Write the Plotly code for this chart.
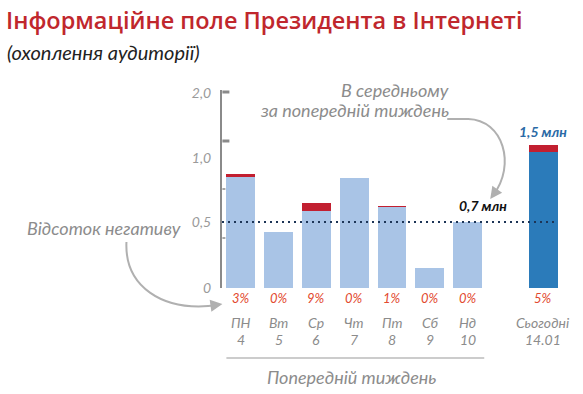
import plotly.graph_objects as go

# ---------------- data ----------------
days = ["ПН", "Вт", "Ср", "Чт", "Пт", "Сб", "Нд"]
dates = ["4", "5", "6", "7", "8", "9", "10"]
today_label = "Сьогодні"
today_date = "14.01"
week_reach = [0.864, 0.424, 0.644, 0.833, 0.621, 0.152, 0.50]   # chart units
today_reach = 1.083
neg_pct = [3, 0, 9, 0, 1, 0, 0]
today_neg_pct = 5
avg_week = 0.50
avg_label = "0,7 млн"
today_value_label = "1,5 млн"
y_tickvals = [0, 0.5, 0.985, 1.477]
y_ticktext = ["0", "0,5", "1,0", "2,0"]

# ---------------- layout helpers ----------------
FW, FH = 583, 394
L, R, T, B = 221.6, 561.8, 90, 288
PW, PH = R - L, B - T
def px(x):
    return (x - L) / PW
def py(y):
    return (B - y) / PH

FONT = "Lato, 'Open Sans', sans-serif"
GRAY = "#8c8c8c"
LIGHT = "#a9c4e6"
DARK = "#2b7bba"
RED = "#c21f30"
PCT = "#e2492f"

xpos = list(range(len(days))) + [len(days) + 1]
totals = week_reach + [today_reach]
pcts = neg_pct + [today_neg_pct]
neg_part = [t * p / 100 for t, p in zip(totals, pcts)]
pos_part = [t - n for t, n in zip(totals, neg_part)]
base_colors = [LIGHT] * len(days) + [DARK]

fig = go.Figure()
fig.add_trace(go.Bar(x=xpos, y=pos_part, marker=dict(color=base_colors, line=dict(width=0)),
                     hoverinfo="skip"))
fig.add_trace(go.Bar(x=xpos, y=neg_part, marker=dict(color=RED, line=dict(width=0)),
                     hoverinfo="skip"))

fig.update_layout(
    width=FW, height=FH,
    margin=dict(l=L, r=FW - R, t=T, b=FH - B),
    paper_bgcolor="white", plot_bgcolor="white",
    barmode="stack", bargap=0.233, showlegend=False,
    font=dict(family=FONT, color=GRAY),
    xaxis=dict(range=[-0.5, 8.5], showgrid=False, zeroline=False, showticklabels=False,
               showline=False, fixedrange=True),
    yaxis=dict(range=[0, 1.5], showgrid=False, zeroline=False, showline=True,
               linecolor="#8a8a8a", linewidth=2, tickvals=y_tickvals, ticktext=y_ticktext,
               ticks="", ticklabelstandoff=6,
               tickfont=dict(family=FONT, size=14, color="#9a9a9a", style="italic")),
)

shapes = []
# axis dashes
for yy, ln, w in [(92, 7, 3), (141, 7, 3), (189, 3, 1.5), (238, 3, 1.5)]:
    shapes.append(dict(type="line", xref="paper", yref="paper", x0=px(222), x1=px(222 + ln),
                       y0=py(yy), y1=py(yy), line=dict(color="#8a8a8a", width=w)))
# average dotted line
shapes.append(dict(type="line", xref="x", yref="y", x0=-0.5, x1=xpos[-1] + 0.383,
                   y0=avg_week, y1=avg_week,
                   line=dict(color="#1d3557", width=2, dash="2px,4px"), layer="above"))
# week underline
shapes.append(dict(type="line", xref="paper", yref="paper", x0=px(226), x1=px(484),
                   y0=py(358), y1=py(358), line=dict(color="#9a9a9a", width=1.2)))
# curve from "тиждень" to 0,7 млн
def P(x, y):
    return f"{px(x):.5f},{py(y):.5f}"
shapes.append(dict(type="path", xref="paper", yref="paper",
                   path=f"M {P(447,119)} L {P(468,119)} C {P(503,120)} {P(516,165)} {P(493,195)}",
                   line=dict(color="#b0b0b0", width=2)))
# curve from "Відсоток негативу" to 3%
shapes.append(dict(type="path", xref="paper", yref="paper",
                   path=f"M {P(126,242)} C {P(124,285)} {P(160,313)} {P(218,305)}",
                   line=dict(color="#b0b0b0", width=2)))
fig.update_layout(shapes=shapes)

ann = []
def text(x, y, s, size, color=GRAY, style="italic", weight="normal", xanchor="center",
         yanchor="middle", family=FONT):
    ann.append(dict(xref="paper", yref="paper", x=px(x), y=py(y), text=s, showarrow=False,
                    xanchor=xanchor, yanchor=yanchor,
                    font=dict(size=size, color=color, family=family, style=style, weight=weight)))

# title & subtitle
text(3, 20, "Інформаційне поле Президента в Інтернеті", 23.5, color="#c0272d", style="normal",
     weight=600, xanchor="left", family="'Open Sans', sans-serif")
text(4, 52, "(охоплення аудиторії)", 20, color="#222222", xanchor="left")
# annotations texts
text(451, 90, "В середньому", 18, xanchor="right")
text(451, 110, "за попередній тиждень", 18, xanchor="right")
text(183, 228, "Відсоток негативу", 18, xanchor="right")
text(351, 377, "Попередній тиждень", 18)

fig.update_layout(annotations=ann)

# per-bar labels (data x positions)
for i, xp in enumerate(xpos):
    is_today = i == len(xpos) - 1
    fig.add_annotation(x=xp, xref="x", y=py(298), yref="paper", text=f"{pcts[i]}%",
                       showarrow=False, yanchor="middle",
                       font=dict(size=13, color=PCT, family=FONT, style="italic"))
    fig.add_annotation(x=xp, xref="x", y=py(322), yref="paper",
                       text=today_label if is_today else days[i], showarrow=False,
                       yanchor="middle", font=dict(size=14, color=GRAY, family=FONT, style="italic"))
    fig.add_annotation(x=xp, xref="x", y=py(339), yref="paper",
                       text=today_date if is_today else dates[i], showarrow=False,
                       yanchor="middle", font=dict(size=14, color=GRAY, family=FONT, style="italic"))

fig.add_annotation(x=6.4, xref="x", y=avg_week, yref="y", text=avg_label, showarrow=False,
                   yanchor="bottom", yshift=6,
                   font=dict(size=14, color="#111111", family=FONT, style="italic", weight="bold"))
fig.add_annotation(x=xpos[-1], xref="x", y=today_reach, yref="y", text=today_value_label,
                   showarrow=False, yanchor="bottom", yshift=3,
                   font=dict(size=14, color="#2a6aa6", family=FONT, style="italic", weight="bold"))

# arrowheads
fig.add_annotation(xref="paper", yref="paper", x=px(490), y=py(199), ax=5, ay=-7, text="",
                   showarrow=True, arrowhead=2, arrowsize=1.2, arrowwidth=2, arrowcolor="#b0b0b0")
fig.add_annotation(xref="paper", yref="paper", x=px(222), y=py(304), ax=-7, ay=1, text="",
                   showarrow=True, arrowhead=2, arrowsize=1.2, arrowwidth=2, arrowcolor="#b0b0b0")

fig.write_html("out.html", config={"displayModeBar": False},
               post_script="document.body.style.margin='0';")
